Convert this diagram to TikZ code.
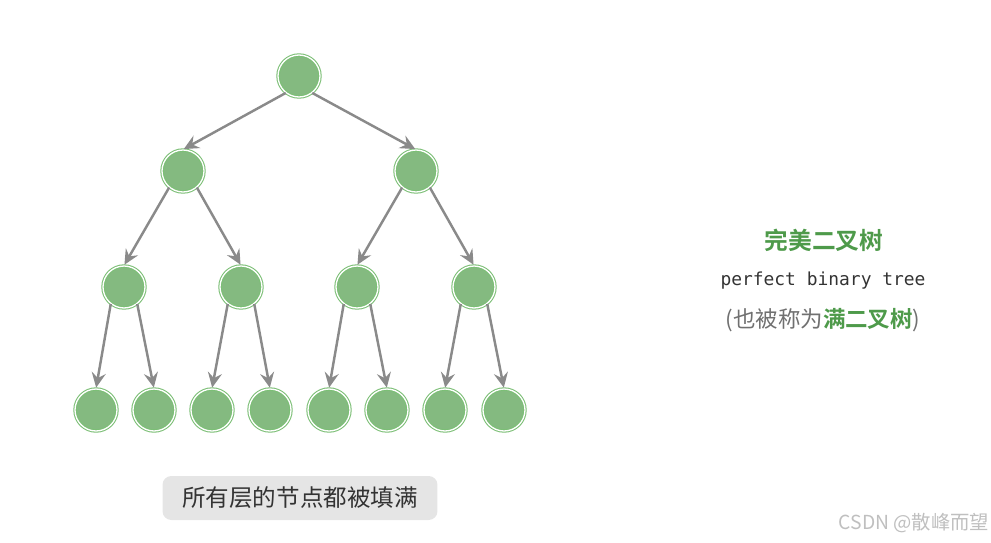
\documentclass[tikz,border=0pt]{standalone}
\usepackage{fontspec}
\newfontfamily\cjk{Noto Sans CJK SC}
\newfontfamily\cjkbold{Noto Sans CJK SC Bold}
\newfontfamily\codefont{DejaVu Sans Mono}
\usetikzlibrary{arrows.meta}
\definecolor{leafgreen}{HTML}{84BA80}
\definecolor{ringgreen}{HTML}{7CBF76}
\definecolor{titlegreen}{HTML}{4E9A4A}
\definecolor{edgegray}{HTML}{8A8A8A}
\definecolor{notegray}{HTML}{707070}
\definecolor{boxgray}{HTML}{E5E5E5}
\begin{document}
\begin{tikzpicture}[x=0.02cm,y=-0.02cm,
  treenode/.style={circle,inner sep=0pt,minimum size=0.84cm,fill=leafgreen,
    draw=ringgreen,line width=0.6pt,double=white,double distance=0.75pt},
  treeedge/.style={draw=edgegray,line width=1.4pt,-{Stealth[length=8.5pt,width=8pt,inset=3pt]},shorten >=0.5pt}]
\useasboundingbox (0,0) rectangle (991,542);
% levels 1-4
\node[treenode] (r) at (299,76) {};
\node[treenode] (a) at (183,171) {};
\node[treenode] (b) at (416,171) {};
\node[treenode] (aa) at (124,287) {};
\node[treenode] (ab) at (241,287) {};
\node[treenode] (ba) at (357,287) {};
\node[treenode] (bb) at (474,287) {};
\node[treenode] (aaa) at (96,410) {};
\node[treenode] (aab) at (154,410) {};
\node[treenode] (aba) at (212,410) {};
\node[treenode] (abb) at (270,410) {};
\node[treenode] (baa) at (329,410) {};
\node[treenode] (bab) at (387,410) {};
\node[treenode] (bba) at (445,410) {};
\node[treenode] (bbb) at (504,410) {};
% edges: left child from 232, right child from 308, into the top
\draw[treeedge] (r.232) -- (a.north);
\draw[treeedge] (r.308) -- (b.north);
\draw[treeedge] (a.230) -- (aa.north);
\draw[treeedge] (a.310) -- (ab.north);
\draw[treeedge] (b.230) -- (ba.north);
\draw[treeedge] (b.310) -- (bb.north);
\draw[treeedge] (aa.232) -- (aaa.north);
\draw[treeedge] (aa.308) -- (aab.north);
\draw[treeedge] (ab.232) -- (aba.north);
\draw[treeedge] (ab.308) -- (abb.north);
\draw[treeedge] (ba.232) -- (baa.north);
\draw[treeedge] (ba.308) -- (bab.north);
\draw[treeedge] (bb.232) -- (bba.north);
\draw[treeedge] (bb.308) -- (bbb.north);
% captions
\node[fill=boxgray,rounded corners=5pt,minimum width=5.5cm,minimum height=0.88cm,
  font=\cjk\fontsize{13.4}{15}\selectfont,text=black!80] (all) at (300,498) {所有层的节点都被填满};
\node[text=titlegreen,font=\cjkbold\fontsize{13.5}{15}\selectfont] (title) at (824,240) {完美二叉树};
\node[text=black!80,font=\codefont\fontsize{10.2}{12}\selectfont] (eng) at (823,281) {perfect binary tree};
\node[text=notegray,font=\cjk\fontsize{12.8}{14}\selectfont] (alias) at (823,320)
  {(也被称为{\cjkbold\color{titlegreen}满二叉树})};
\node[text=black!25,font=\cjk\fontsize{11}{13}\selectfont] (mark) at (914,523) {CSDN @散峰而望};
\end{tikzpicture}
\end{document}
